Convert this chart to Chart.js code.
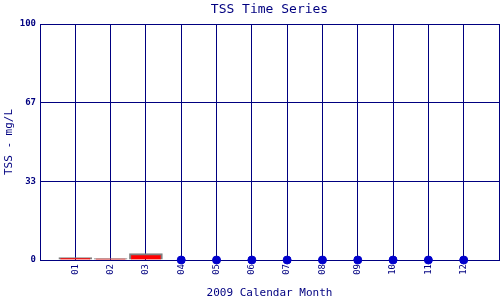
<!DOCTYPE html>
<html>
<head>
<meta charset="utf-8">
<script src="https://cdn.jsdelivr.net/npm/chart.js@4.4.0/dist/chart.umd.min.js"></script>
<style>
  html, body { margin: 0; padding: 0; background: #fff; }
  #wrap { width: 500px; height: 300px; }
</style>
</head>
<body>
<div id="wrap"><canvas id="tssChart" width="500" height="300"></canvas></div>
<script>
// Données
const chartTitle = 'TSS Time Series';
const monthLabels = ['01', '02', '03', '04', '05', '06', '07', '08', '09', '10', '11', '12'];
const barMonths = [1, 2, 3];
const barValues = [1.0, 0.55, 2.7];
const zeroMonths = [4, 5, 6, 7, 8, 9, 10, 11, 12];
const zeroValues = [0, 0, 0, 0, 0, 0, 0, 0, 0];
const yTickValues = [0, 100 / 3, 200 / 3, 100];
const yTickLabels = ['0', '33', '67', '100'];

const navy = '#000080';
const mono = "'DejaVu Sans Mono', 'Liberation Mono', monospace";

// titre centré sur la zone du graphique + étiquettes des mois tournées de -90°
const customText = {
    id: 'customText',
    afterDraw(chart) {
        const x = chart.scales.x;
        const area = chart.chartArea;
        const c = chart.ctx;
        c.save();
        c.fillStyle = navy;
        c.font = '13px ' + mono;
        c.textAlign = 'center';
        c.textBaseline = 'middle';
        c.fillText(chartTitle, (area.left + area.right) / 2, 10);

        c.font = '9px ' + mono;
        c.textAlign = 'right';
        monthLabels.forEach((lab, i) => {
            const px = x.getPixelForValue(i + 1);
            c.save();
            c.translate(px, x.top + 4);
            c.rotate(-Math.PI / 2);
            c.fillText(lab, 0, 0);
            c.restore();
        });
        c.restore();
    }
};

const ctx = document.getElementById('tssChart').getContext('2d');
new Chart(ctx, {
    type: 'bar',
    data: {
        datasets: [
            {
                type: 'bar',
                data: barMonths.map((m, i) => ({ x: m, y: barValues[i] })),
                backgroundColor: '#ff0000',
                borderColor: '#808080',
                borderWidth: 2,
                barThickness: 33,
                order: 2
            },
            {
                type: 'scatter',
                data: zeroMonths.map((m, i) => ({ x: m, y: zeroValues[i] })),
                backgroundColor: '#0000cc',
                borderColor: '#0000cc',
                pointRadius: 4,
                showLine: false,
                clip: false,
                order: 1
            }
        ]
    },
    plugins: [customText],
    options: {
        responsive: false,
        animation: false,
        layout: { autoPadding: false, padding: { top: 24, right: 1 } },
        plugins: {
            legend: { display: false },
            tooltip: { enabled: false },
            title: { display: false }
        },
        scales: {
            x: {
                type: 'linear',
                min: 0,
                max: 13,
                offset: false,
                afterBuildTicks: (scale) => {
                    scale.ticks = [];
                    for (let i = 0; i <= 13; i++) scale.ticks.push({ value: i });
                },
                ticks: { display: false },
                grid: { color: navy, lineWidth: 1, drawTicks: false, offset: false },
                border: { color: navy, width: 1 },
                title: {
                    display: true,
                    text: '2009 Calendar Month',
                    color: navy,
                    font: { family: mono, size: 11 },
                    padding: { top: 0, bottom: 0 }
                },
                afterFit: (scale) => {
                    scale.height = 40;
                    scale.paddingLeft = 0;
                    scale.paddingRight = 0;
                }
            },
            y: {
                min: 0,
                max: 100,
                afterBuildTicks: (scale) => {
                    scale.ticks = yTickValues.map(v => ({ value: v }));
                },
                ticks: {
                    color: navy,
                    font: { family: mono, size: 9, weight: 'bold' },
                    padding: 4,
                    callback: (v, i) => yTickLabels[i]
                },
                grid: { color: navy, lineWidth: 1, drawTicks: false },
                border: { color: navy, width: 1 },
                title: {
                    display: true,
                    text: 'TSS - mg/L',
                    color: navy,
                    font: { family: mono, size: 11 },
                    padding: { top: 3, bottom: 0 }
                },
                afterFit: (scale) => {
                    scale.width = 40;
                    scale.paddingTop = 0;
                    scale.paddingBottom = 0;
                }
            }
        }
    }
});
</script>
</body>
</html>
